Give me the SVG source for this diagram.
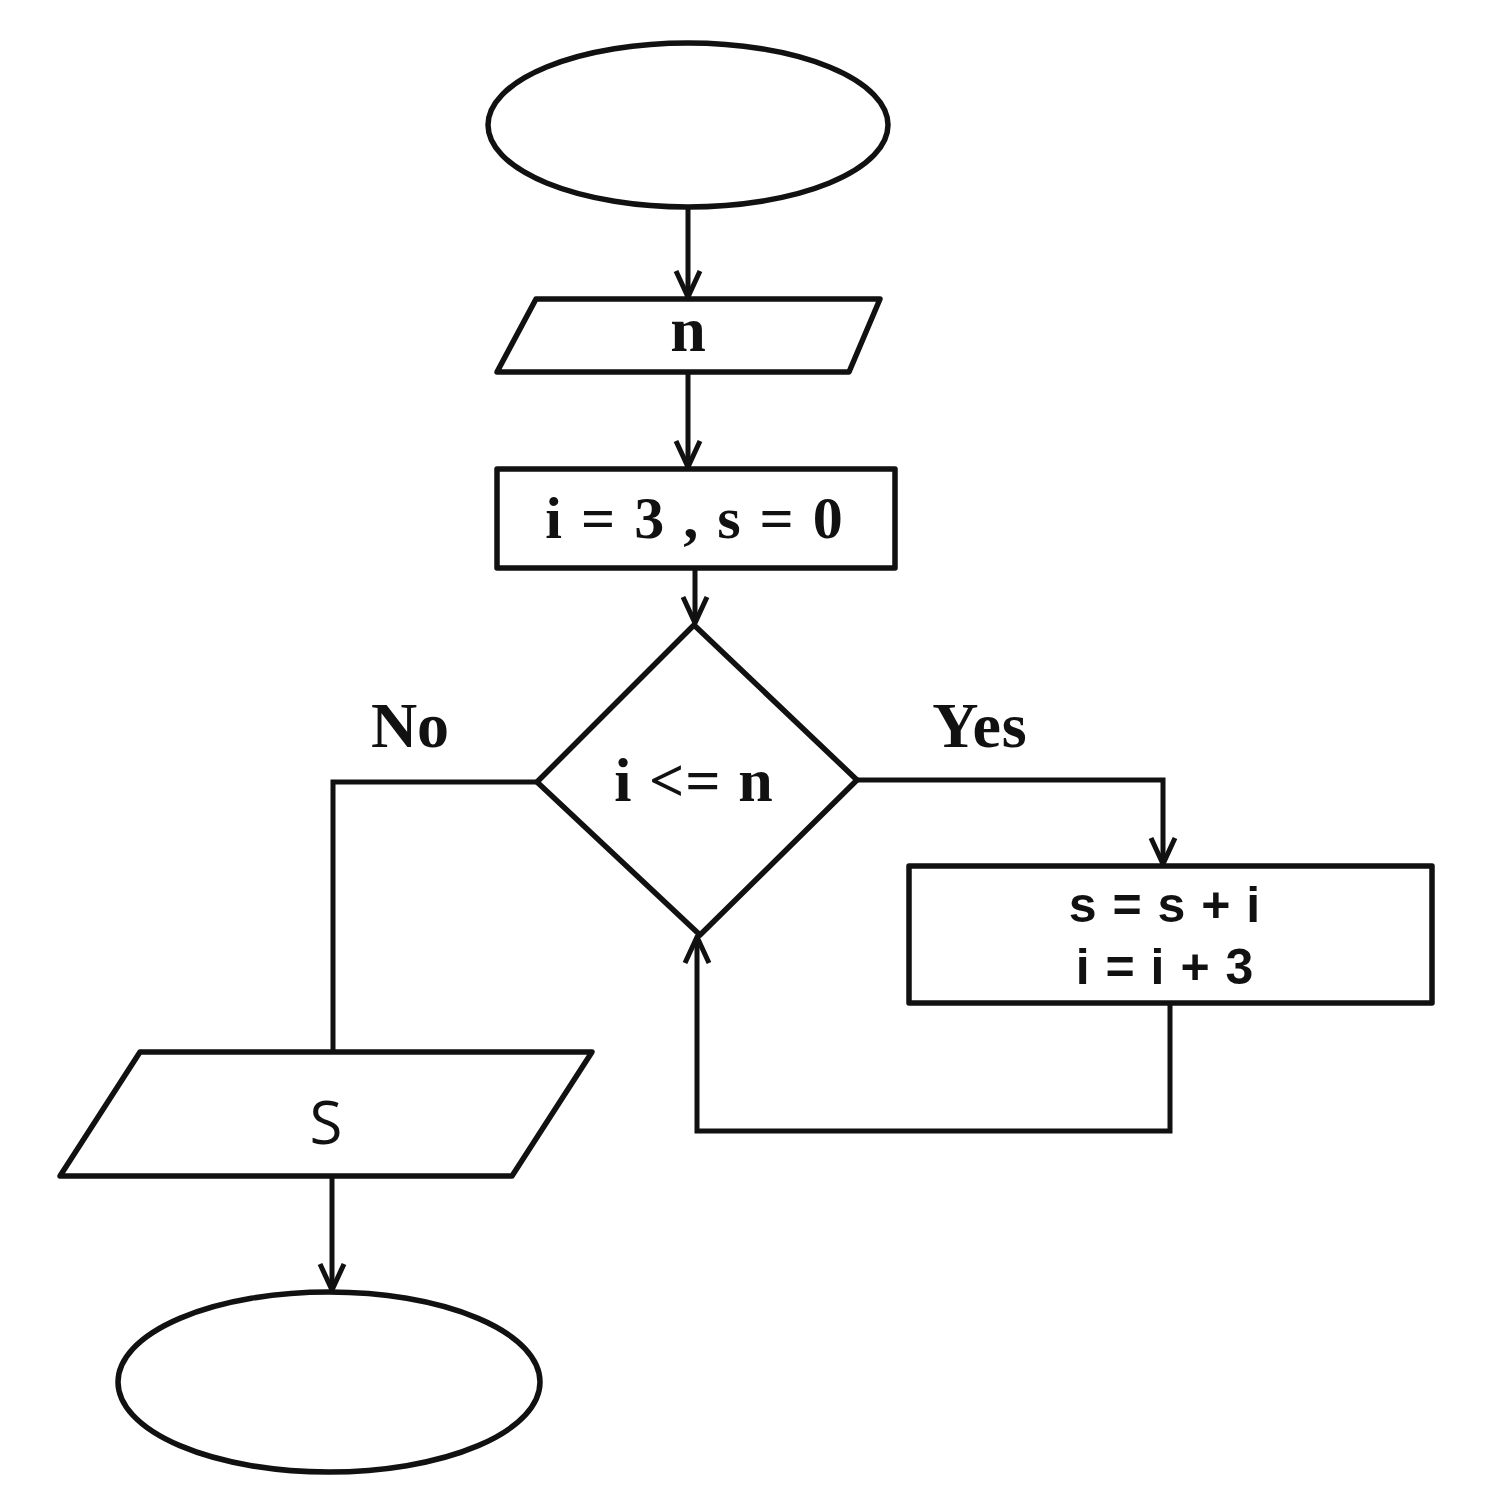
<svg xmlns="http://www.w3.org/2000/svg" width="1510" height="1491" viewBox="0 0 1510 1491">
<style>
.s{fill:none;stroke:#111;stroke-width:5.5;stroke-linejoin:round}
.c{fill:none;stroke:#111;stroke-width:5}
.t{font-family:"Liberation Serif",serif;font-weight:bold;fill:#111;text-anchor:middle}
.u{font-family:"Liberation Sans",sans-serif;font-weight:bold;fill:#111;text-anchor:middle}
</style>
<defs>
<marker id="a" viewBox="0 0 30 30" refX="28" refY="15" markerWidth="30" markerHeight="30" markerUnits="userSpaceOnUse" orient="auto">
<path d="M2,3 L28,15 L2,27" fill="none" stroke="#111" stroke-width="5"/>
</marker>
</defs>
<rect width="1510" height="1491" fill="#fff"/>
<g id="start"><ellipse class="s" cx="688" cy="125" rx="200" ry="82"/></g>
<g id="input"><polygon class="s" points="536,299 880,299 849,372 497,372"/><text class="t" x="688" y="351" font-size="64">n</text></g>
<g id="init"><rect class="s" x="497" y="469" width="398" height="99"/><text class="t" x="695" y="538" font-size="60" letter-spacing="2">i = 3 , s = 0</text></g>
<g id="cond"><polygon class="s" points="694,625 857,780 700,935 537,782"/><text class="t" x="694" y="801" font-size="62" letter-spacing="1">i &lt;= n</text></g>
<g id="body"><rect class="s" x="909" y="866" width="523" height="137"/><text class="u" x="1165" y="922" font-size="50" letter-spacing="1">s = s + i</text><text class="u" x="1165" y="984" font-size="50" letter-spacing="1">i = i + 3</text></g>
<g id="output"><polygon class="s" points="140,1052 592,1052 512,1176 60,1176"/><text x="326" y="1144" font-family="'Open Sans',sans-serif" font-size="60" fill="#111" text-anchor="middle">S</text></g>
<g id="end"><ellipse class="s" cx="329" cy="1382" rx="211" ry="90"/></g>
<g id="labels"><text class="t" x="410" y="747" font-size="64">No</text><text class="t" x="980" y="747" font-size="64" letter-spacing="1">Yes</text></g>
<g id="connectors">
<path class="c" d="M688,207 V297" marker-end="url(#a)"/>
<path class="c" d="M688,372 V467" marker-end="url(#a)"/>
<path class="c" d="M695,568 V623" marker-end="url(#a)"/>
<path class="c" d="M857,780 H1163 V864" marker-end="url(#a)"/>
<path class="c" d="M1170,1003 V1131 H697 V937" marker-end="url(#a)"/>
<path class="c" d="M537,782 H333 V1052"/>
<path class="c" d="M332,1176 V1290" marker-end="url(#a)"/>
</g>
</svg>
